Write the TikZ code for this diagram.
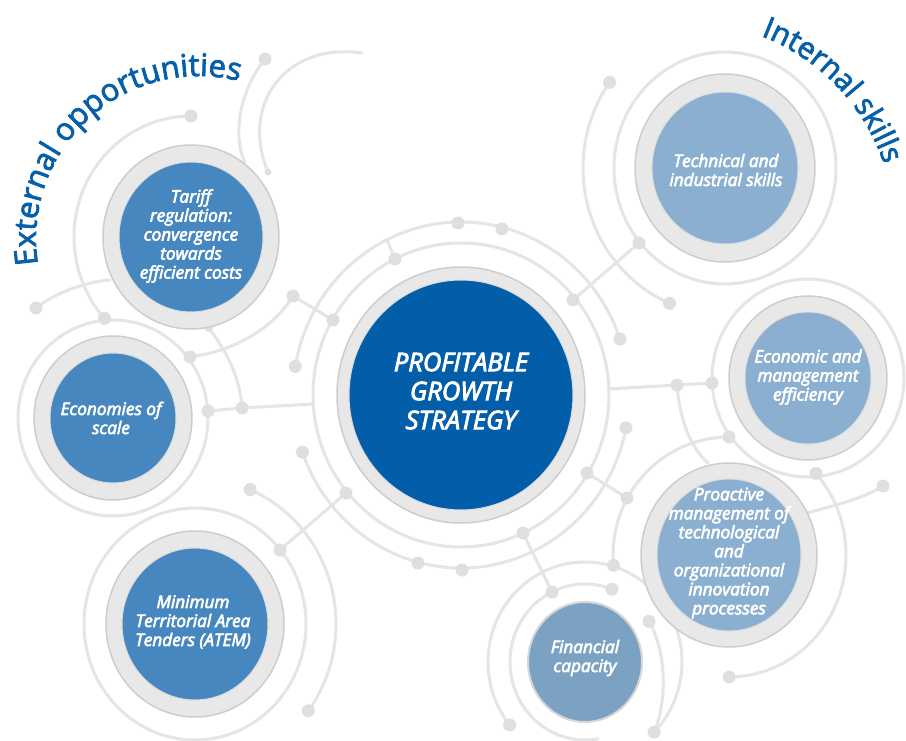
\documentclass[tikz,border=0pt]{standalone}
\usepackage{fontspec}
\setmainfont{Open Sans}
\newfontfamily\nodefont{Open Sans}[FakeBold=3.5, ItalicFeatures={FakeBold=3.5}]
\newfontfamily\ttlfont{Open Sans}[FakeBold=2.5]
\usetikzlibrary{shapes.geometric,decorations.text}
\definecolor{cenC}{HTML}{035EAA}
\definecolor{extC}{HTML}{4787BF}
\definecolor{intC}{HTML}{8BAFD0}
\definecolor{finC}{HTML}{7CA2C3}
\definecolor{ttlC}{HTML}{055FA9}
\definecolor{ringF}{HTML}{E8E8E8}
\definecolor{ringD}{HTML}{CDCDCD}
\definecolor{lineC}{HTML}{E5E5E5}
\definecolor{dotC}{HTML}{DFDFDF}
\newcommand\mydot[1]{\fill[dotC] (#1) circle[radius=6.5pt];}
\newcommand\myring[3]{\fill[ringF] (#1) ellipse[x radius=#2pt, y radius=#3pt];
  \draw[ringD, line width=1.5pt] (#1) ellipse[x radius=#2pt, y radius=#3pt];}
\begin{document}
\begin{tikzpicture}[x=1pt,y=1pt,
  ln/.style={draw=lineC, line width=3pt, line cap=round},
  blob/.style={ellipse, inner sep=0pt, draw=ringD!70, line width=1pt},
  ntext/.style={text=white, align=center, inner sep=0pt,
    font=\nodefont\itshape\fontsize{17.2}{19}\selectfont},
  ctext/.style={text=white, align=center, inner sep=0pt,
    font=\nodefont\itshape\fontsize{25.5}{29}\selectfont}]
\fill[white] (0,0) rectangle (906,-741);
\useasboundingbox (0,0) rectangle (906,-741);
% centres
\coordinate (cC) at (461,-395);
\coordinate (cTa) at (191,-237);
\coordinate (cEc) at (113,-418);
\coordinate (cAt) at (195,-624);
\coordinate (cTe) at (725,-168);
\coordinate (cEm) at (808,-378);
\coordinate (cPr) at (729,-555);
\coordinate (cFi) at (585,-662);
% ---- decorative lines ----
% central rings
\draw[ln] (cC) ellipse[x radius=148pt, y radius=152pt];
\draw[ln] (cC) ++(18.9:168pt and 173pt) coordinate (p19)
  arc[start angle=18.9, end angle=170.5, x radius=168pt, y radius=173pt] coordinate (p10);
\draw[ln] (cC) ++(-10.9:168pt and 173pt) coordinate (p20)
  arc[start angle=-10.9, end angle=-160.7, x radius=168pt, y radius=173pt] coordinate (p11);
% dots on rings
\coordinate (p12) at (395,-259);
\coordinate (p07) at (333,-320);
\coordinate (p15) at (573,-300);
\coordinate (p23) at (587,-473);
\coordinate (p29) at (523,-533);
\coordinate (p38) at (346,-493);
\coordinate (p13) at (458,-223);
\coordinate (p14) at (502,-229);
\coordinate (p36) at (462,-570);
\coordinate (p37) at (418,-563);
\coordinate (tk) at (387,-240);
\draw[ln] (tk) -- (p12);
% left connectors
\coordinate (riL) at (313,-404);
\coordinate (p08) at (242,-408);
\coordinate (p09) at (208,-411);
\draw[ln] (riL) -- (p08) -- (p09);
\coordinate (p06) at (293,-296);
\coordinate (p05) at (190,-357);
\draw[ln] (p07) -- (p06) .. controls (275,-325) and (240,-350) .. (p05);
\coordinate (p42) at (209,-328);
\draw[ln] (p42) .. controls (225,-350) and (240,-375) .. (p08);
% right connectors
\coordinate (riR) at (609,-389);
\coordinate (p21) at (677,-385);
\coordinate (p22) at (712,-383);
\draw[ln] (riR) -- (p21) -- (p22);
\coordinate (prTL) at (708,-463);
\draw[ln] (p21) .. controls (680,-420) and (690,-447) .. (prTL);
\coordinate (p16) at (639,-243);
\draw[ln] (p15) -- (p16);
\coordinate (p24) at (627,-498);
\draw[ln] (p23) -- (p24);
\coordinate (p30) at (552,-592);
\draw[ln] (p29) -- (p30);
\coordinate (p39) at (280,-550);
\draw[ln] (p38) -- (p39);
% top-left arcs
\coordinate (p01) at (265,-59);
\coordinate (a1e) at (245,-163);
\draw[ln] (p01) .. controls (240,-90) and (232,-135) .. (a1e);
\coordinate (a2s) at (362,-53);
\coordinate (a2e) at (268,-172);
\draw[ln] (a2s) .. controls (285,-42) and (240,-105) .. (a2e);
\fill[dotC] (a2e) circle[radius=3.5pt];
% Tariff outer arc
\draw[ln] (cTa) ++(90:117pt and 121pt) coordinate (p02)
  arc[start angle=90, end angle=222.3, x radius=117pt, y radius=121pt] coordinate (p04);
\coordinate (p03) at (36,-308);
\coordinate (taL) at (110,-280);
\draw[ln] (p03) .. controls (55,-293) and (85,-282) .. (taL);
% Economies outer ring
\draw[ln] (cEc) ellipse[x radius=95pt, y radius=98pt];
% ATEM rings
\draw[ln] (cAt) ellipse[x radius=111pt, y radius=116pt];
\draw[ln] (cAt) ++(67:141pt and 146pt) coordinate (p40)
  arc[start angle=67, end angle=-36.5, x radius=141pt, y radius=146pt] coordinate (p41);
% Technical rings
\draw[ln] (cTe) ellipse[x radius=111pt, y radius=116pt];
\draw[ln] (cTe) ++(144.4:142pt and 147pt) coordinate (p17)
  arc[start angle=144.4, end angle=247, x radius=142pt, y radius=147pt] coordinate (p18);
% Economic outer ring
\draw[ln] (cEm) ellipse[x radius=96pt, y radius=99pt];
% Proactive arcs
\draw[ln] (cPr) ++(90:116pt and 118pt) coordinate (p25)
  arc[start angle=90, end angle=185, x radius=116pt, y radius=118pt] coordinate (p32);
\draw[ln] (cPr) ++(42:117pt and 122pt) coordinate (p26)
  arc[start angle=42, end angle=-90, x radius=117pt, y radius=122pt] coordinate (p28);
\coordinate (prR) at (807,-513);
\coordinate (p27) at (883,-486);
\draw[ln] (prR) .. controls (835,-505) and (860,-500) .. (p27);
% Financial arcs
\draw[ln] (cFi) ++(69:75pt and 78pt) coordinate (p31)
  arc[start angle=69, end angle=280, x radius=75pt, y radius=78pt];
\draw[ln] (cFi) ++(219:97pt and 100pt) coordinate (p35)
  arc[start angle=219, end angle=-44.6, x radius=97pt, y radius=100pt] coordinate (p34);
\path (cFi) ++(31.4:75pt and 78pt) coordinate (p33);
\draw[ln] (p33) .. controls (666,-650) and (668,-700) .. (p34);
% dots
\foreach \p in {p01,p02,p03,p04,p05,p06,p07,p08,p09,p10,p11,p12,p13,p14,p15,p16,p17,p18,p19,p20,
  p21,p22,p23,p24,p25,p26,p27,p28,p29,p30,p31,p32,p33,p34,p35,p36,p37,p38,p39,p40,p41}{\mydot{\p}}
\fill[dotC] (p42) circle[radius=4pt];
% ---- rings ----
\myring{cC}{124}{128}
\myring{cTa}{88}{92}
\myring{cEc}{79}{82}
\myring{cAt}{89}{93}
\myring{cTe}{90}{94}
\myring{cEm}{79}{82}
\myring{cPr}{88}{92}
% ---- nodes ----
\node[blob, fill=cenC, minimum width=224pt, minimum height=230pt] (cen) at (cC) {};
\node[blob, fill=extC, minimum width=144pt, minimum height=150pt] (tariff) at (cTa) {};
\node[blob, fill=extC, minimum width=126pt, minimum height=130pt] (econ) at (cEc) {};
\node[blob, fill=extC, minimum width=146pt, minimum height=152pt] (atem) at (cAt) {};
\node[blob, fill=intC, minimum width=146pt, minimum height=152pt] (tech) at (cTe) {};
\node[blob, fill=intC, minimum width=126pt, minimum height=132pt] (effi) at (cEm) {};
\node[blob, fill=intC, minimum width=144pt, minimum height=152pt] (proa) at (cPr) {};
\node[ellipse, inner sep=0pt, fill=finC, draw=ringD!80, line width=2pt,
  minimum width=114pt, minimum height=120pt] (fina) at (cFi) {};
% ---- texts ----
\node[ctext] (cent) at (461,-391) {PROFITABLE\\GROWTH\\STRATEGY};
\node[ntext] (tarifft) at (191,-236) {Tariff\\regulation:\\convergence\\towards\\efficient costs};
\node[ntext] (econt) at (111,-418) {Economies of\\scale};
\node[ntext] (atemt) at (193,-622) {Minimum\\Territorial Area\\Tenders (ATEM)};
\node[ntext] (techt) at (726,-170) {Technical and\\industrial skills};
\node[ntext] (effit) at (808,-377) {Economic and\\management\\efficiency};
\node[ntext] (proat) at (729,-553) {Proactive\\management of\\technological\\and\\organizational\\innovation\\processes};
\node[ntext] (finat) at (585,-658) {Financial\\capacity};
% ---- titles ----
\path[decorate, decoration={text along path, text color=ttlC,
  text={|\ttlfont\fontsize{31}{31}\selectfont|External opportunities}}]
  (199,-239) ++(189:163pt) arc[start angle=189, end angle=55, radius=163pt];
\path[decorate, decoration={text along path, text color=ttlC,
  text={|\ttlfont\fontsize{30}{30}\selectfont|Internal skills}}]
  (686,-231) ++(69:209pt) arc[start angle=69, end angle=5, radius=209pt];
\end{tikzpicture}
\end{document}
